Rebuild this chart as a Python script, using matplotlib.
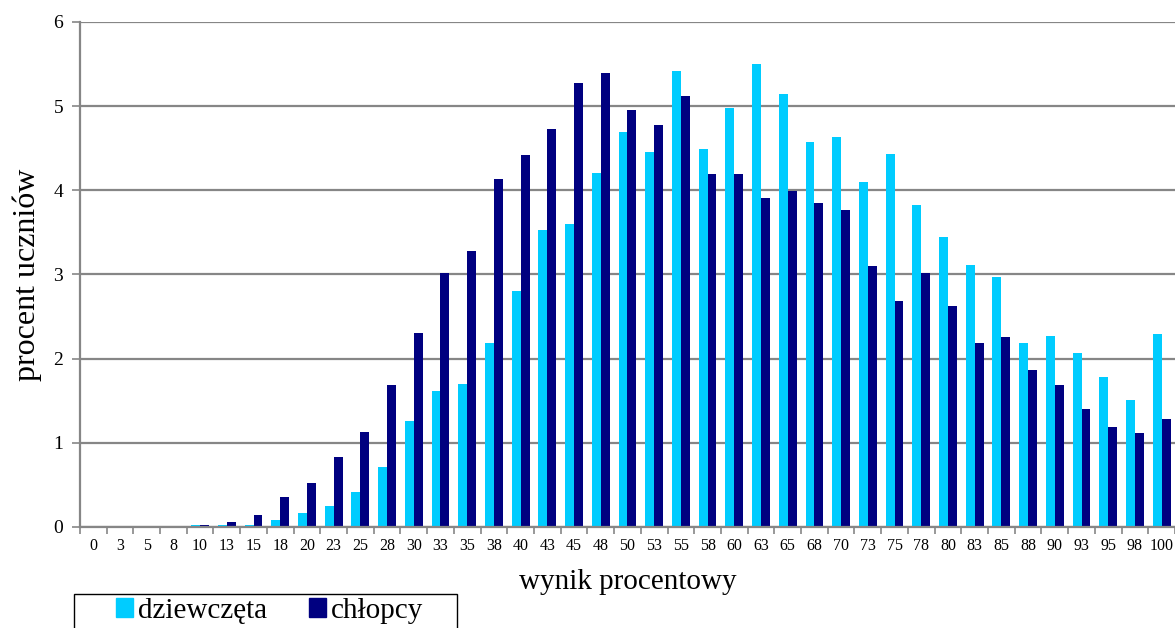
import matplotlib.pyplot as plt
import numpy as np
from matplotlib.patches import Patch, Rectangle

plt.rcParams['font.family'] = ['Liberation Serif', 'DejaVu Serif']

# percentage-score categories
wyniki = ['0', '3', '5', '8', '10', '13', '15', '18', '20', '23', '25', '28', '30',
          '33', '35', '38', '40', '43', '45', '48', '50', '53', '55', '58', '60',
          '63', '65', '68', '70', '73', '75', '78', '80', '83', '85', '88', '90',
          '93', '95', '98', '100']

dziewczeta = [0, 0, 0, 0, 0.025, 0.02, 0.02, 0.085, 0.16, 0.25, 0.41, 0.71, 1.255,
              1.61, 1.70, 2.19, 2.80, 3.53, 3.60, 4.20, 4.69, 4.45, 5.42, 4.49, 4.98,
              5.50, 5.15, 4.57, 4.63, 4.10, 4.43, 3.82, 3.44, 3.11, 2.97, 2.19, 2.27,
              2.07, 1.78, 1.505, 2.29]

chlopcy = [0, 0, 0, 0, 0.025, 0.06, 0.14, 0.35, 0.52, 0.83, 1.13, 1.69, 2.30,
           3.015, 3.28, 4.13, 4.415, 4.73, 5.275, 5.39, 4.95, 4.78, 5.12, 4.19, 4.19,
           3.91, 3.99, 3.85, 3.77, 3.10, 2.69, 3.015, 2.63, 2.18, 2.26, 1.86, 1.69,
           1.40, 1.19, 1.12, 1.285]

c_girls = '#00CCFF'
c_boys = '#000080'
grid_c = '#868686'

fig = plt.figure(figsize=(11.75, 6.28), dpi=100)
ax = fig.add_axes([0.068, 0.161, 0.932, 0.804])

x = np.arange(len(wyniki))
w = 1 / 3
ax.bar(x - w / 2, dziewczeta, width=w, color=c_girls, zorder=3)
ax.bar(x + w / 2, chlopcy, width=w, color=c_boys, zorder=3)

ax.set_xlim(-0.5, len(wyniki) - 0.5)
ax.set_ylim(0, 6)
ax.set_yticks(range(0, 7))
ax.yaxis.grid(True, color=grid_c, linewidth=1.6, zorder=0)

# labels at category centres, tick marks between categories
ax.set_xticks(x)
ax.set_xticklabels(wyniki, fontsize=11.5)
ax.set_xticks(np.arange(-0.5, len(wyniki)), minor=True)
ax.tick_params(axis='x', which='major', length=0, pad=8)
ax.tick_params(axis='x', which='minor', length=5, width=1.2, color=grid_c)
ax.tick_params(axis='y', length=6, width=1.2, color=grid_c, labelsize=14, pad=6)

for s in ['top', 'right']:
    ax.spines[s].set_visible(False)
ax.spines['left'].set_color(grid_c)
ax.spines['left'].set_linewidth(1.6)
ax.spines['bottom'].set_color(grid_c)
ax.spines['bottom'].set_linewidth(1.6)
ax.spines['bottom'].set_zorder(4)

ax.set_xlabel('wynik procentowy', fontsize=21, labelpad=11)
ax.set_ylabel('procent uczniów', fontsize=23, labelpad=8)

# legend (box drawn separately so it runs off the bottom edge like the original)
handles = [Patch(color=c_girls, label='dziewczęta'),
           Patch(color=c_boys, label='chłopcy')]
fig.legend(handles=handles, loc='upper left', ncol=2,
           bbox_to_anchor=(116 / 1175, 1 - 598 / 628), fontsize=21,
           frameon=False, handlelength=0.58, handleheight=0.6,
           handletextpad=0.17, columnspacing=1.44, borderpad=0,
           borderaxespad=0)
fig.patches.append(Rectangle((74 / 1175, -0.05), 383 / 1175, 0.05 + 1 - 594 / 628,
                             transform=fig.transFigure, fill=False,
                             edgecolor='black', linewidth=1.0, clip_on=False))

fig.savefig('out.png', dpi=100)
